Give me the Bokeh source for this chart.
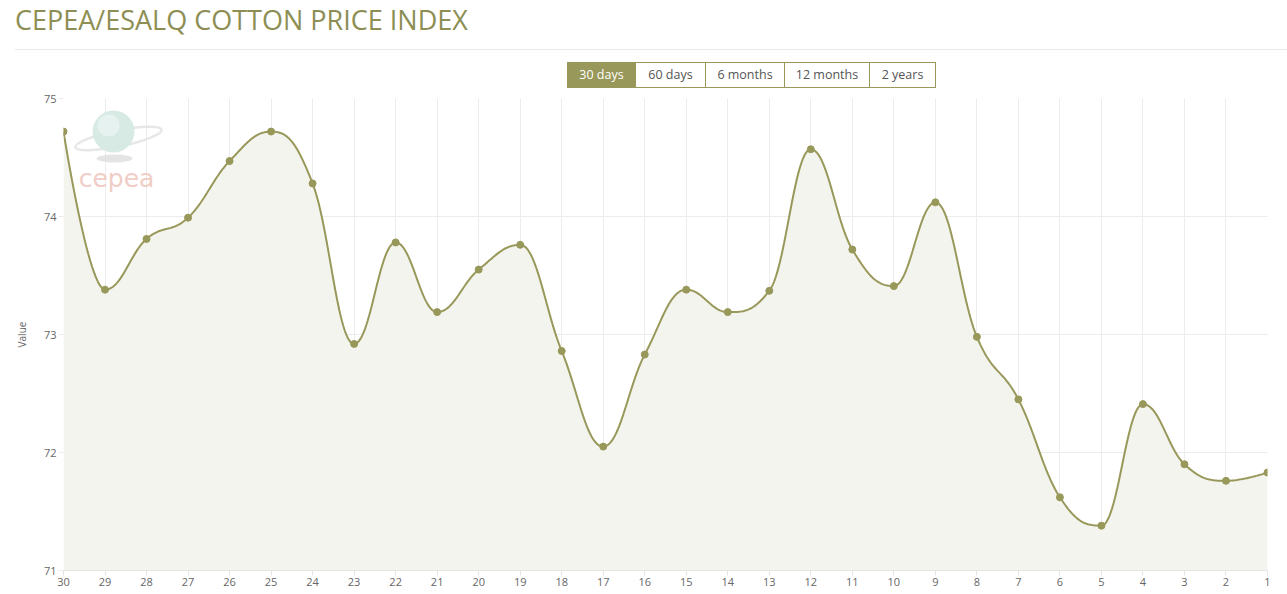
import numpy as np
from bokeh.plotting import figure
from bokeh.models import Range1d, FixedTicker, Div
from bokeh.layouts import column
from bokeh.embed import file_html
from bokeh.resources import INLINE
from bokeh.core.properties import value

# ---------------- data ----------------
days = [str(d) for d in range(30, 0, -1)]
prices = [74.72, 73.38, 73.81, 73.99, 74.47, 74.72, 74.28, 72.92, 73.78, 73.19,
          73.55, 73.76, 72.86, 72.05, 72.83, 73.38, 73.19, 73.37, 74.57, 73.72,
          73.41, 74.12, 72.98, 72.45, 71.62, 71.38, 72.41, 71.90, 71.76, 71.83]
y_ticks = [71, 72, 73, 74, 75]
buttons = ["30 days", "60 days", "6 months", "12 months", "2 years"]
title_text = "CEPEA/ESALQ COTTON PRICE INDEX"

OLIVE = "#98985a"
FONT = "Open Sans"

# ---------------- spline (Highcharts-like) ----------------
def spline_path(xs, ys, smoothing=1.5, steps=30):
    n = len(xs)
    denom = smoothing + 1
    left = [(xs[i], ys[i]) for i in range(n)]
    right = [(xs[i], ys[i]) for i in range(n)]
    for i in range(1, n - 1):
        px, py = xs[i], ys[i]
        lx, ly = xs[i - 1], ys[i - 1]
        nx, ny = xs[i + 1], ys[i + 1]
        lcx = (smoothing * px + lx) / denom
        lcy = (smoothing * py + ly) / denom
        rcx = (smoothing * px + nx) / denom
        rcy = (smoothing * py + ny) / denom
        if rcx != lcx:
            corr = ((rcy - lcy) * (rcx - px)) / (rcx - lcx) + py - rcy
            lcy += corr
            rcy += corr
        if lcy > ly and lcy > py:
            lcy = max(ly, py); rcy = 2 * py - lcy
        elif lcy < ly and lcy < py:
            lcy = min(ly, py); rcy = 2 * py - lcy
        if rcy > ny and rcy > py:
            rcy = max(ny, py); lcy = 2 * py - rcy
        elif rcy < ny and rcy < py:
            rcy = min(ny, py); lcy = 2 * py - rcy
        left[i] = (lcx, lcy)
        right[i] = (rcx, rcy)
    outx, outy = [], []
    t = np.linspace(0, 1, steps)
    for i in range(n - 1):
        p0 = np.array([xs[i], ys[i]])
        p1 = np.array(right[i])
        p2 = np.array(left[i + 1])
        p3 = np.array([xs[i + 1], ys[i + 1]])
        tt = t[:, None] if i == 0 else t[1:, None]
        pts = ((1 - tt) ** 3) * p0 + 3 * ((1 - tt) ** 2) * tt * p1 + 3 * (1 - tt) * tt ** 2 * p2 + tt ** 3 * p3
        outx.extend(pts[:, 0]); outy.extend(pts[:, 1])
    return np.array(outx), np.array(outy)

xs = list(range(len(days)))
cx, cy = spline_path(xs, prices)

# ---------------- header (title, rule, buttons) ----------------
btn_widths = [69, 70, 79, 85, 66]
btn_html = ""
left = 567
for i, (b, w) in enumerate(zip(buttons, btn_widths)):
    sel = i == 0
    bg = OLIVE if sel else "#ffffff"
    col = "#ffffff" if sel else "#555555"
    bl = "1px solid %s" % OLIVE if i == 0 else "none"
    btn_html += (
        '<div style="position:absolute;left:%dpx;top:62px;width:%dpx;height:26px;'
        'box-sizing:border-box;border:1px solid %s;border-left:%s;background:%s;color:%s;'
        'font-family:\'Open Sans\';font-size:12.5px;line-height:24px;text-align:center;">%s</div>'
        % (left, w, OLIVE, bl, bg, col, b)
    )
    left += w

header_html = (
    '<div style="position:relative;width:1287px;height:90px;">'
    '<div style="position:absolute;left:15px;top:5px;font-family:\'Open Sans\';font-size:27px;'
    'line-height:30px;color:#8d8e54;white-space:nowrap;">%s</div>'
    '<div style="position:absolute;left:15px;top:49px;width:1272px;height:1px;background:#e9e9e9;"></div>'
    '%s</div>' % (title_text, btn_html)
)
header = Div(text=header_html, width=1287, height=90, margin=(0, 0, 0, 0))

# ---------------- chart ----------------
p = figure(width=1287, height=504, output_backend="svg", toolbar_location=None,
           x_range=Range1d(0, len(days) - 1), y_range=Range1d(y_ticks[0], y_ticks[-1]),
           min_border_left=63, min_border_right=20, min_border_top=8, min_border_bottom=24,
           title=None, margin=(0, 0, 0, 0))
p.outline_line_color = None
p.background_fill_color = "#ffffff"

p.xaxis.ticker = FixedTicker(ticks=xs)
p.xaxis.major_label_overrides = {i: d for i, d in enumerate(days)}
p.yaxis.ticker = FixedTicker(ticks=y_ticks)

p.xgrid.ticker = FixedTicker(ticks=xs)
p.xgrid.grid_line_color = "#ececec"
p.ygrid.grid_line_color = "#ececec"

for ax in (p.xaxis, p.yaxis):
    ax.major_label_text_font = FONT
    ax.major_label_text_font_size = "11px"
    ax.major_label_text_color = "#666666"
    ax.minor_tick_line_color = None
    ax.major_tick_in = 0

p.xaxis.axis_line_color = "#e3e3e3"
p.xaxis.major_tick_line_color = "#e3e3e3"
p.xaxis.major_tick_out = 5
p.xaxis.major_label_standoff = 2

p.yaxis.axis_line_color = None
p.yaxis.major_tick_line_color = "#ececec"
p.yaxis.major_tick_out = 5
p.yaxis.major_label_standoff = 2
p.yaxis.axis_label = "Value"
p.yaxis.axis_label_text_font = FONT
p.yaxis.axis_label_text_font_size = "10px"
p.yaxis.axis_label_text_font_style = "normal"
p.yaxis.axis_label_text_color = "#666666"
p.yaxis.axis_label_standoff = 12

# area under the spline
p.varea(x=cx, y1=y_ticks[0], y2=cy, fill_color="#f4f4ef", fill_alpha=1.0)

# watermark logo (decorative), placed in plot-pixel terms
def px2x(px):
    return (px - 63) / (1204 / (len(days) - 1))

def py2y(py):
    return y_ticks[-1] - (py - 98) / (472 / (y_ticks[-1] - y_ticks[0]))

p.ellipse(x=px2x(118), y=py2y(138), width=88, height=16, angle=0.2,
          width_units="screen", height_units="screen",
          fill_color=None, line_color="#e2e5e3", line_width=2.5, line_alpha=0.9)
p.ellipse(x=px2x(114), y=py2y(158), width=36, height=8,
          width_units="screen", height_units="screen",
          fill_color="#dddddd", line_color=None, fill_alpha=0.8)
p.scatter(x=[px2x(113)], y=[py2y(131)], size=42, fill_color="#d6e9e3",
          line_color=None, fill_alpha=0.95)
p.scatter(x=[px2x(108)], y=[py2y(125)], size=22, fill_color="#eaf4f1",
          line_color=None, fill_alpha=0.8)
p.text(x=[px2x(116)], y=[py2y(178)], text=["cepea"], text_font=value("DejaVu Sans"),
       text_font_size="25px", text_color="#f0cdc6", text_align="center",
       text_baseline="middle", text_font_style="normal")

# line and points
p.line(cx, cy, line_color=OLIVE, line_width=2)
p.scatter(xs, prices, size=7, fill_color=OLIVE, line_color=OLIVE)

layout = column(header, p, spacing=0, margin=(0, 0, 0, 0))
open("out.html", "w").write(file_html(layout, INLINE))
